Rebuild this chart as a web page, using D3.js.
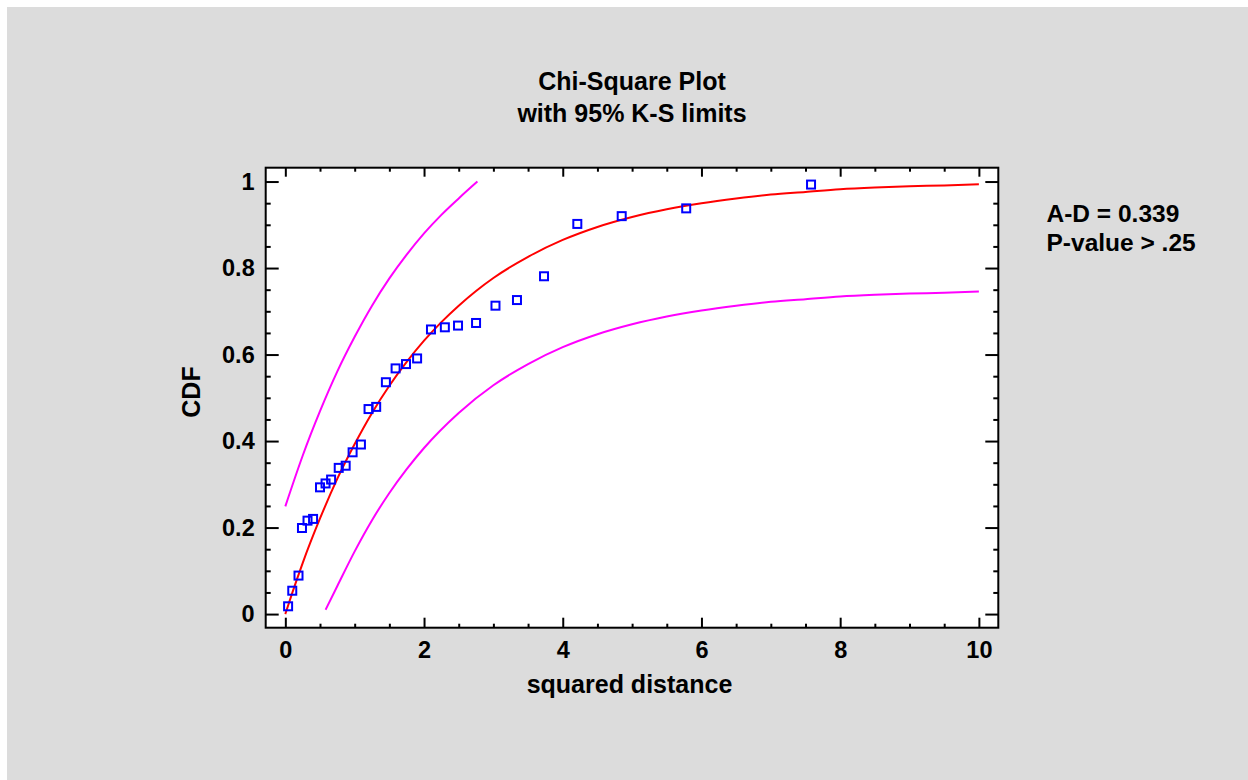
<!DOCTYPE html>
<html>
<head>
<meta charset="utf-8">
<script src="https://cdn.jsdelivr.net/npm/d3@7"></script>
<style>
  body { margin: 0; background: #fff; }
  svg { display: block; font-family: "Liberation Sans", Arial, sans-serif; font-weight: bold; }
</style>
</head>
<body>
<svg id="chart" width="1248" height="780"></svg>
<script>
// Observed points (squared distance, empirical CDF)
const distances = [0.04, 0.10, 0.19, 0.24, 0.32, 0.40, 0.50, 0.58, 0.66, 0.77,
    0.87, 0.97, 1.09, 1.20, 1.31, 1.45, 1.59, 1.74, 1.90, 2.10,
    2.30, 2.49, 2.75, 3.03, 3.34, 3.73, 4.21, 4.85, 5.78, 7.58];
const cdfValues = [0.018, 0.054, 0.089, 0.199, 0.216, 0.220, 0.293, 0.302, 0.311, 0.338,
    0.343, 0.374, 0.392, 0.474, 0.479, 0.536, 0.568, 0.578, 0.591, 0.658,
    0.663, 0.667, 0.673, 0.713, 0.726, 0.781, 0.902, 0.920, 0.938, 0.993];

// Fitted chi-square CDF (red)
const fitX = [0, 0.1, 0.25, 0.5, 0.75, 1, 1.25, 1.5, 1.75, 2, 2.25, 2.5, 2.75, 3,
    3.5, 4, 4.5, 5, 5.5, 6, 6.5, 7, 7.5, 8, 8.5, 9, 9.5, 10];
const fitCdf = [0, 0.049, 0.118, 0.221, 0.313, 0.393, 0.465, 0.528, 0.583, 0.632, 0.675, 0.713, 0.747, 0.777,
    0.826, 0.865, 0.895, 0.918, 0.936, 0.950, 0.961, 0.970, 0.976, 0.982, 0.986, 0.989, 0.991, 0.994];

// Upper 95% K-S limit (magenta)
const upperX = [0, 0.25, 0.5, 0.75, 1, 1.25, 1.5, 1.75, 2, 2.25, 2.5, 2.77];
const upperCdf = [0.249, 0.366, 0.469, 0.561, 0.641, 0.713, 0.776, 0.831, 0.880, 0.923, 0.961, 1.0];

// Lower 95% K-S limit (magenta)
const lowerX = [0.58, 0.75, 1, 1.25, 1.5, 1.75, 2, 2.5, 3, 3.5, 4, 4.5, 5, 5.5,
    6, 6.5, 7, 7.5, 8, 8.5, 9, 9.5, 10];
const lowerCdf = [0.01, 0.065, 0.145, 0.217, 0.280, 0.335, 0.384, 0.465, 0.529, 0.578, 0.617, 0.647, 0.670, 0.688,
    0.702, 0.713, 0.722, 0.728, 0.734, 0.738, 0.741, 0.743, 0.746];

const xMajor = [0, 2, 4, 6, 8, 10];
const yMajor = [0, 0.2, 0.4, 0.6, 0.8, 1];
const titleLines = ["Chi-Square Plot", "with 95% K-S limits"];
const statLines = ["A-D = 0.339", "P-value > .25"];

const svg = d3.select("#chart");

// Frame
const plot = { left: 265.7, right: 998.3, top: 167.7, bottom: 627.7 };

const x = d3.scaleLinear().domain([-0.283, 10.28]).range([plot.left, plot.right]);
const y = d3.scaleLinear().domain([-0.0315, 1.032]).range([plot.bottom, plot.top]);

const xMinor = d3.range(0, 10.01, 0.5).filter(v => xMajor.indexOf(v) < 0);
const yMinor = d3.range(0, 1.001, 0.05).map(v => +v.toFixed(2)).filter(v => yMajor.indexOf(v) < 0);

// Background
svg.append("rect")
    .attr("x", 7).attr("y", 7)
    .attr("width", 1241).attr("height", 773)
    .attr("fill", "#dcdcdc");

svg.append("rect")
    .attr("x", plot.left).attr("y", plot.top)
    .attr("width", plot.right - plot.left).attr("height", plot.bottom - plot.top)
    .attr("fill", "#fff");

// Axes helper
function drawAxis(axis, tx, ty, labels) {
    const g = svg.append("g")
        .attr("transform", `translate(${tx},${ty})`)
        .call(axis);
    g.select(".domain").remove();
    g.selectAll("line").attr("stroke", "#000").attr("stroke-width", 2);
    g.selectAll("text")
        .attr("fill", "#000")
        .style("font-size", "23.5px")
        .style("font-weight", "bold")
        .style("font-family", '"Liberation Sans", Arial, sans-serif');
    if (!labels) g.selectAll("text").remove();
    return g;
}

// Left
drawAxis(d3.axisLeft(y).tickValues(yMinor).tickSize(-5).tickFormat(""), plot.left, 0, false);
drawAxis(d3.axisLeft(y).tickValues(yMajor).tickSize(-13).tickPadding(11).tickFormat(d3.format("")), plot.left, 0, true);
// Right
drawAxis(d3.axisRight(y).tickValues(yMinor).tickSize(-5).tickFormat(""), plot.right, 0, false);
drawAxis(d3.axisRight(y).tickValues(yMajor).tickSize(-13).tickFormat(""), plot.right, 0, false);
// Bottom
drawAxis(d3.axisBottom(x).tickValues(xMinor).tickSize(-4).tickFormat(""), 0, plot.bottom, false);
drawAxis(d3.axisBottom(x).tickValues(xMajor).tickSize(-10).tickPadding(14).tickFormat(d3.format("")), 0, plot.bottom, true);
// Top
drawAxis(d3.axisTop(x).tickValues(xMinor).tickSize(-4).tickFormat(""), 0, plot.top, false);
drawAxis(d3.axisTop(x).tickValues(xMajor).tickSize(-9).tickFormat(""), 0, plot.top, false);

// Frame border
svg.append("rect")
    .attr("x", plot.left).attr("y", plot.top)
    .attr("width", plot.right - plot.left).attr("height", plot.bottom - plot.top)
    .attr("fill", "none")
    .attr("stroke", "#000")
    .attr("stroke-width", 2);

// Lines
const line = d3.line()
    .x(d => x(d[0]))
    .y(d => y(d[1]))
    .curve(d3.curveMonotoneX);

svg.append("path")
    .datum(d3.zip(upperX, upperCdf))
    .attr("d", line)
    .attr("fill", "none")
    .attr("stroke", "#ff00ff")
    .attr("stroke-width", 2);

svg.append("path")
    .datum(d3.zip(lowerX, lowerCdf))
    .attr("d", line)
    .attr("fill", "none")
    .attr("stroke", "#ff00ff")
    .attr("stroke-width", 2);

svg.append("path")
    .datum(d3.zip(fitX, fitCdf))
    .attr("d", line)
    .attr("fill", "none")
    .attr("stroke", "#ff0000")
    .attr("stroke-width", 2);

// Points
const sq = 8;
svg.append("g")
    .selectAll("rect")
    .data(d3.zip(distances, cdfValues))
    .join("rect")
    .attr("x", d => x(d[0]) - sq / 2)
    .attr("y", d => y(d[1]) - sq / 2)
    .attr("width", sq)
    .attr("height", sq)
    .attr("fill", "none")
    .attr("stroke", "#0000ff")
    .attr("stroke-width", 2);

// Titles
svg.append("g")
    .selectAll("text")
    .data(titleLines)
    .join("text")
    .attr("x", 632)
    .attr("y", (d, i) => 90 + i * 31.7)
    .attr("text-anchor", "middle")
    .style("font-size", "25px")
    .text(d => d);

svg.append("text")
    .attr("x", 629.5)
    .attr("y", 693)
    .attr("text-anchor", "middle")
    .style("font-size", "25px")
    .text("squared distance");

svg.append("text")
    .attr("transform", "translate(200,392) rotate(-90)")
    .attr("text-anchor", "middle")
    .style("font-size", "25px")
    .text("CDF");

svg.append("g")
    .selectAll("text")
    .data(statLines)
    .join("text")
    .attr("x", 1046.5)
    .attr("y", (d, i) => 221.7 + i * 29)
    .style("font-size", "24.5px")
    .text(d => d);
</script>
</body>
</html>
